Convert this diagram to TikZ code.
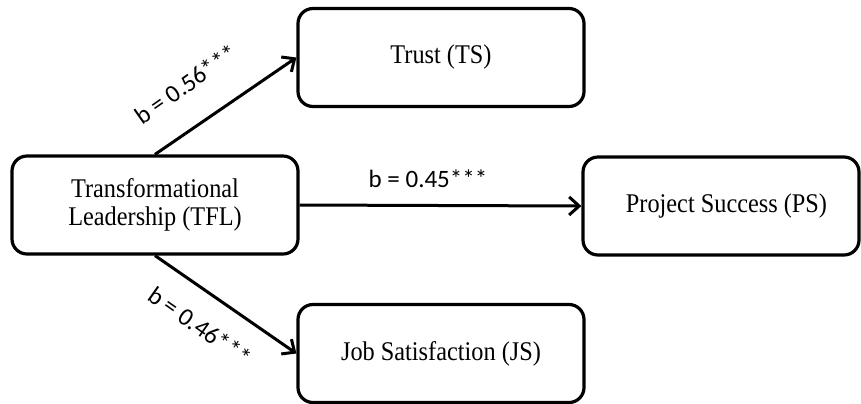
\documentclass[tikz,border=0pt]{standalone}
\usepackage{fontspec}
\setmainfont[FakeStretch=0.9]{Liberation Serif}
\newfontfamily\lblfont{Carlito}
\usetikzlibrary{arrows.meta}
\begin{document}
\begin{tikzpicture}[x=0.5pt,y=-0.5pt,
  box/.style={draw, line width=1.6pt, rounded corners=7.5pt,
    minimum width=143pt, minimum height=49pt, align=center, inner sep=0pt,
    font=\fontsize{13.5}{14}\selectfont},
  arr/.style={line width=1.5pt, -{Straight Barb[length=5pt,width=9pt,line width=1.5pt]}},
  lbl/.style={font=\lblfont\fontsize{12.5}{14}\selectfont, inner sep=0pt}]
\useasboundingbox (0,0) rectangle (861,403);
\node[box] (tfl) at (155,205) {Transformational\\Leadership (TFL)};
\node[box] (ts) at (441,57.5) {Trust (TS)};
\node[box, minimum width=138pt] (ps) at (721,206) {\hspace*{5.5pt}Project Success (PS)};
\node[box] (js) at (441,353.5) {Job Satisfaction (JS)};
\draw[arr] (tfl.north) -- (ts.west);
\draw[arr] (tfl.east) -- (ps.west);
\draw[arr] (tfl.south) -- (js.west);
\node[lbl, rotate=35] (l1) at (186,84) {b = 0.56***};
\node[lbl, anchor=base] (l2) at (428,187) {b = 0.45***};
\node[lbl, rotate=-35] (l3) at (200,326) {b = 0.46***};
\end{tikzpicture}
\end{document}
